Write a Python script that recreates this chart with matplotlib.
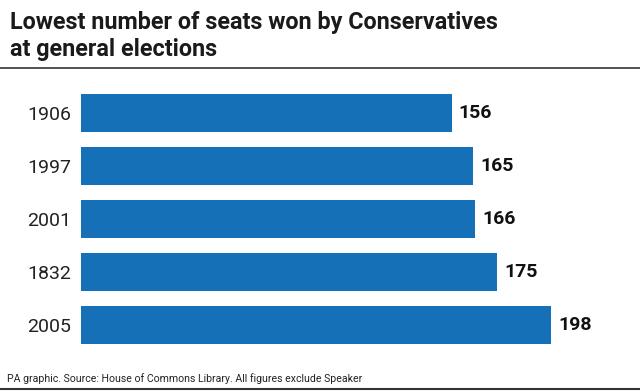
import matplotlib.pyplot as plt

# Data
years = ["1906", "1997", "2001", "1832", "2005"]
seats = [156, 165, 166, 175, 198]

title = "Lowest number of seats won by Conservatives\nat general elections"
source = "PA graphic. Source: House of Commons Library. All figures exclude Speaker"
bar_color = "#1670b8"

W, H = 640, 391
fig = plt.figure(figsize=(W / 100, H / 100), dpi=100)

# axes placed in pixel terms: bars start at x=81, centres every 53 px from y=113
ax = fig.add_axes([81 / W, 1 - 351.5 / H, (W - 81) / W, 265 / H])
pos = list(range(len(years)))
ax.barh(pos, seats, height=0.71, color=bar_color)
ax.set_xlim(0, (W - 81) / 2.376)
ax.set_ylim(len(years) - 0.5, -0.5)

for y, v in zip(pos, seats):
    ax.text(v + 3, y, str(v), va="center", ha="left", fontsize=14,
            fontweight="bold", family="Roboto", color="#111111")

ax.set_yticks(pos)
ax.set_yticklabels(years, fontsize=14, family="Roboto", color="#222222")
ax.tick_params(axis="y", length=0, pad=7)
ax.set_xticks([])
for s in ax.spines.values():
    s.set_visible(False)

# title and rules
fig.text(10 / W, 1 - 11 / H, title, ha="left", va="top", fontsize=16.8,
         family="Roboto", fontweight="bold", color="#1a1a1a", linespacing=1.2)
fig.add_artist(plt.Line2D([0, 1], [1 - 68 / H, 1 - 68 / H], color="#333333", lw=1.2))
fig.text(7 / W, 1 - 379 / H, source, ha="left", va="center", fontsize=7.6,
         family="Roboto", color="#222222")
fig.add_artist(plt.Line2D([0, 1], [1 - 388.5 / H, 1 - 388.5 / H], color="#333333", lw=1.5))

plt.savefig("out.png", dpi=100)
